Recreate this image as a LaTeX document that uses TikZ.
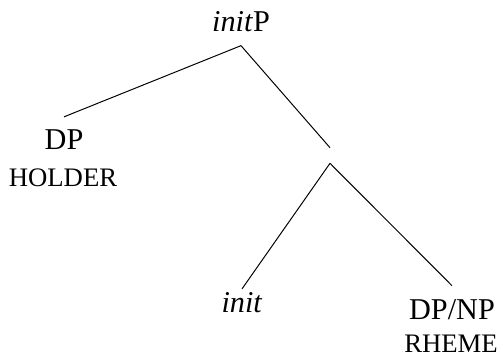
\documentclass[tikz,border=0pt]{standalone}
\usepackage{fontspec}
\setmainfont{Liberation Serif}
\tikzset{
	cat/.style   ={inner xsep=0pt, inner ysep=9.3pt, anchor=base, font=\fontsize{21.5}{24}\selectfont},
	role/.style  ={inner sep=0pt, anchor=base, font=\fontsize{19}{21}\selectfont},
	barnode/.style={inner sep=0pt, minimum width=0pt, minimum height=10.7pt},
	branch/.style={line width=0.7pt},
}
\begin{document}
\begin{tikzpicture}[x=0.025cm, y=-0.025cm]
	\useasboundingbox (0,0) rectangle (498,360);
	% categories
	\node[cat] (initp) at (241,32) {\textit{init}P};
	\node[cat] (dp) at (64,150) {DP};
	\node[role] (holder) at (63,186) {HOLDER};
	\node[barnode] (ibar) at (330,155.5) {};
	\node[cat, inner ysep=2pt] (init) at (242,312) {\textit{init}};
	\node[cat] (dpnp) at (452,319) {DP/NP};
	\node[role] (rheme) at (451,352) {RHEME};
	% branches
	\draw[branch] (initp.south) -- (dp.north);
	\draw[branch] (initp.south) -- (ibar.north);
	\draw[branch] (ibar.south) -- (init.north);
	\draw[branch] (ibar.south) -- (dpnp.north);
\end{tikzpicture}
\end{document}
